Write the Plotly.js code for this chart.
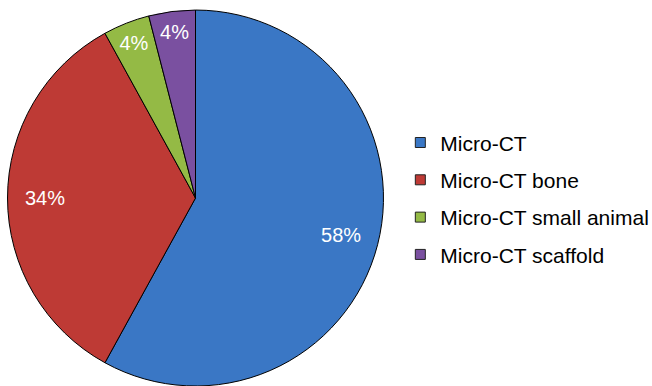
<!DOCTYPE html>
<html>
<head>
<meta charset="utf-8">
<script src="https://cdn.plot.ly/plotly-3.0.1.min.js"></script>
<style>html,body{margin:0;padding:0;background:#fff}#chart{width:652px;height:386px}</style>
</head>
<body>
<div id="chart"></div>
<script>
// Share of micro-CT literature by topic
const categories = ['Micro-CT', 'Micro-CT bone', 'Micro-CT small animal', 'Micro-CT scaffold'];
const shares = [58, 34, 4, 4];
const colors = ['#3A77C5', '#BE3A35', '#94BA45', '#7A50A0'];

const pieDomain = { x: [0.0107, 0.5890], y: [0.0, 0.974] };
const labelFont = { family: 'Liberation Sans, Arial, sans-serif', size: 20, color: '#fff' };

// Filled slices with black outlines
const pie = {
  type: 'pie',
  labels: categories,
  values: shares,
  sort: false,
  direction: 'clockwise',
  rotation: 0,
  marker: { colors: colors, line: { color: '#000', width: 1 } },
  textinfo: 'none',
  hoverinfo: 'label+percent',
  showlegend: false,
  domain: pieDomain
};

// Transparent ring on top carrying the percentage labels, so they sit toward the rim
const labelRing = {
  type: 'pie',
  labels: categories,
  values: shares,
  sort: false,
  direction: 'clockwise',
  rotation: 0,
  hole: 0.6,
  marker: { colors: categories.map(() => 'rgba(0,0,0,0)'), line: { width: 0 } },
  texttemplate: '%{value}%',
  textposition: 'inside',
  insidetextorientation: 'horizontal',
  textfont: labelFont,
  hoverinfo: 'skip',
  showlegend: false,
  domain: pieDomain
};

// Legend entries, one per category, with square swatches
const legendTraces = categories.map((name, i) => ({
  type: 'scatter',
  mode: 'markers',
  x: [null], y: [null],
  name: name,
  legendgroup: 'g' + i,
  marker: { symbol: 'square', size: 10, color: colors[i], line: { color: '#222', width: 1 } },
  hoverinfo: 'skip'
}));

const layout = {
  width: 652,
  height: 386,
  // keep the pie at full size even though the legend runs to the right edge
  margin: { l: 0, r: 0, t: 0, b: 0, autoexpand: false },
  paper_bgcolor: '#fff',
  plot_bgcolor: '#fff',
  xaxis: { visible: false },
  yaxis: { visible: false },
  showlegend: true,
  legend: {
    x: 0.614, y: 0.683, xanchor: 'left', yanchor: 'top',
    font: { family: 'Liberation Sans, Arial, sans-serif', size: 21, color: '#000' },
    tracegroupgap: 7,
    itemwidth: 30,
    bgcolor: 'rgba(0,0,0,0)'
  }
};

Plotly.newPlot('chart', [pie, labelRing].concat(legendTraces), layout, { displayModeBar: false, staticPlot: true });
</script>
</body>
</html>
